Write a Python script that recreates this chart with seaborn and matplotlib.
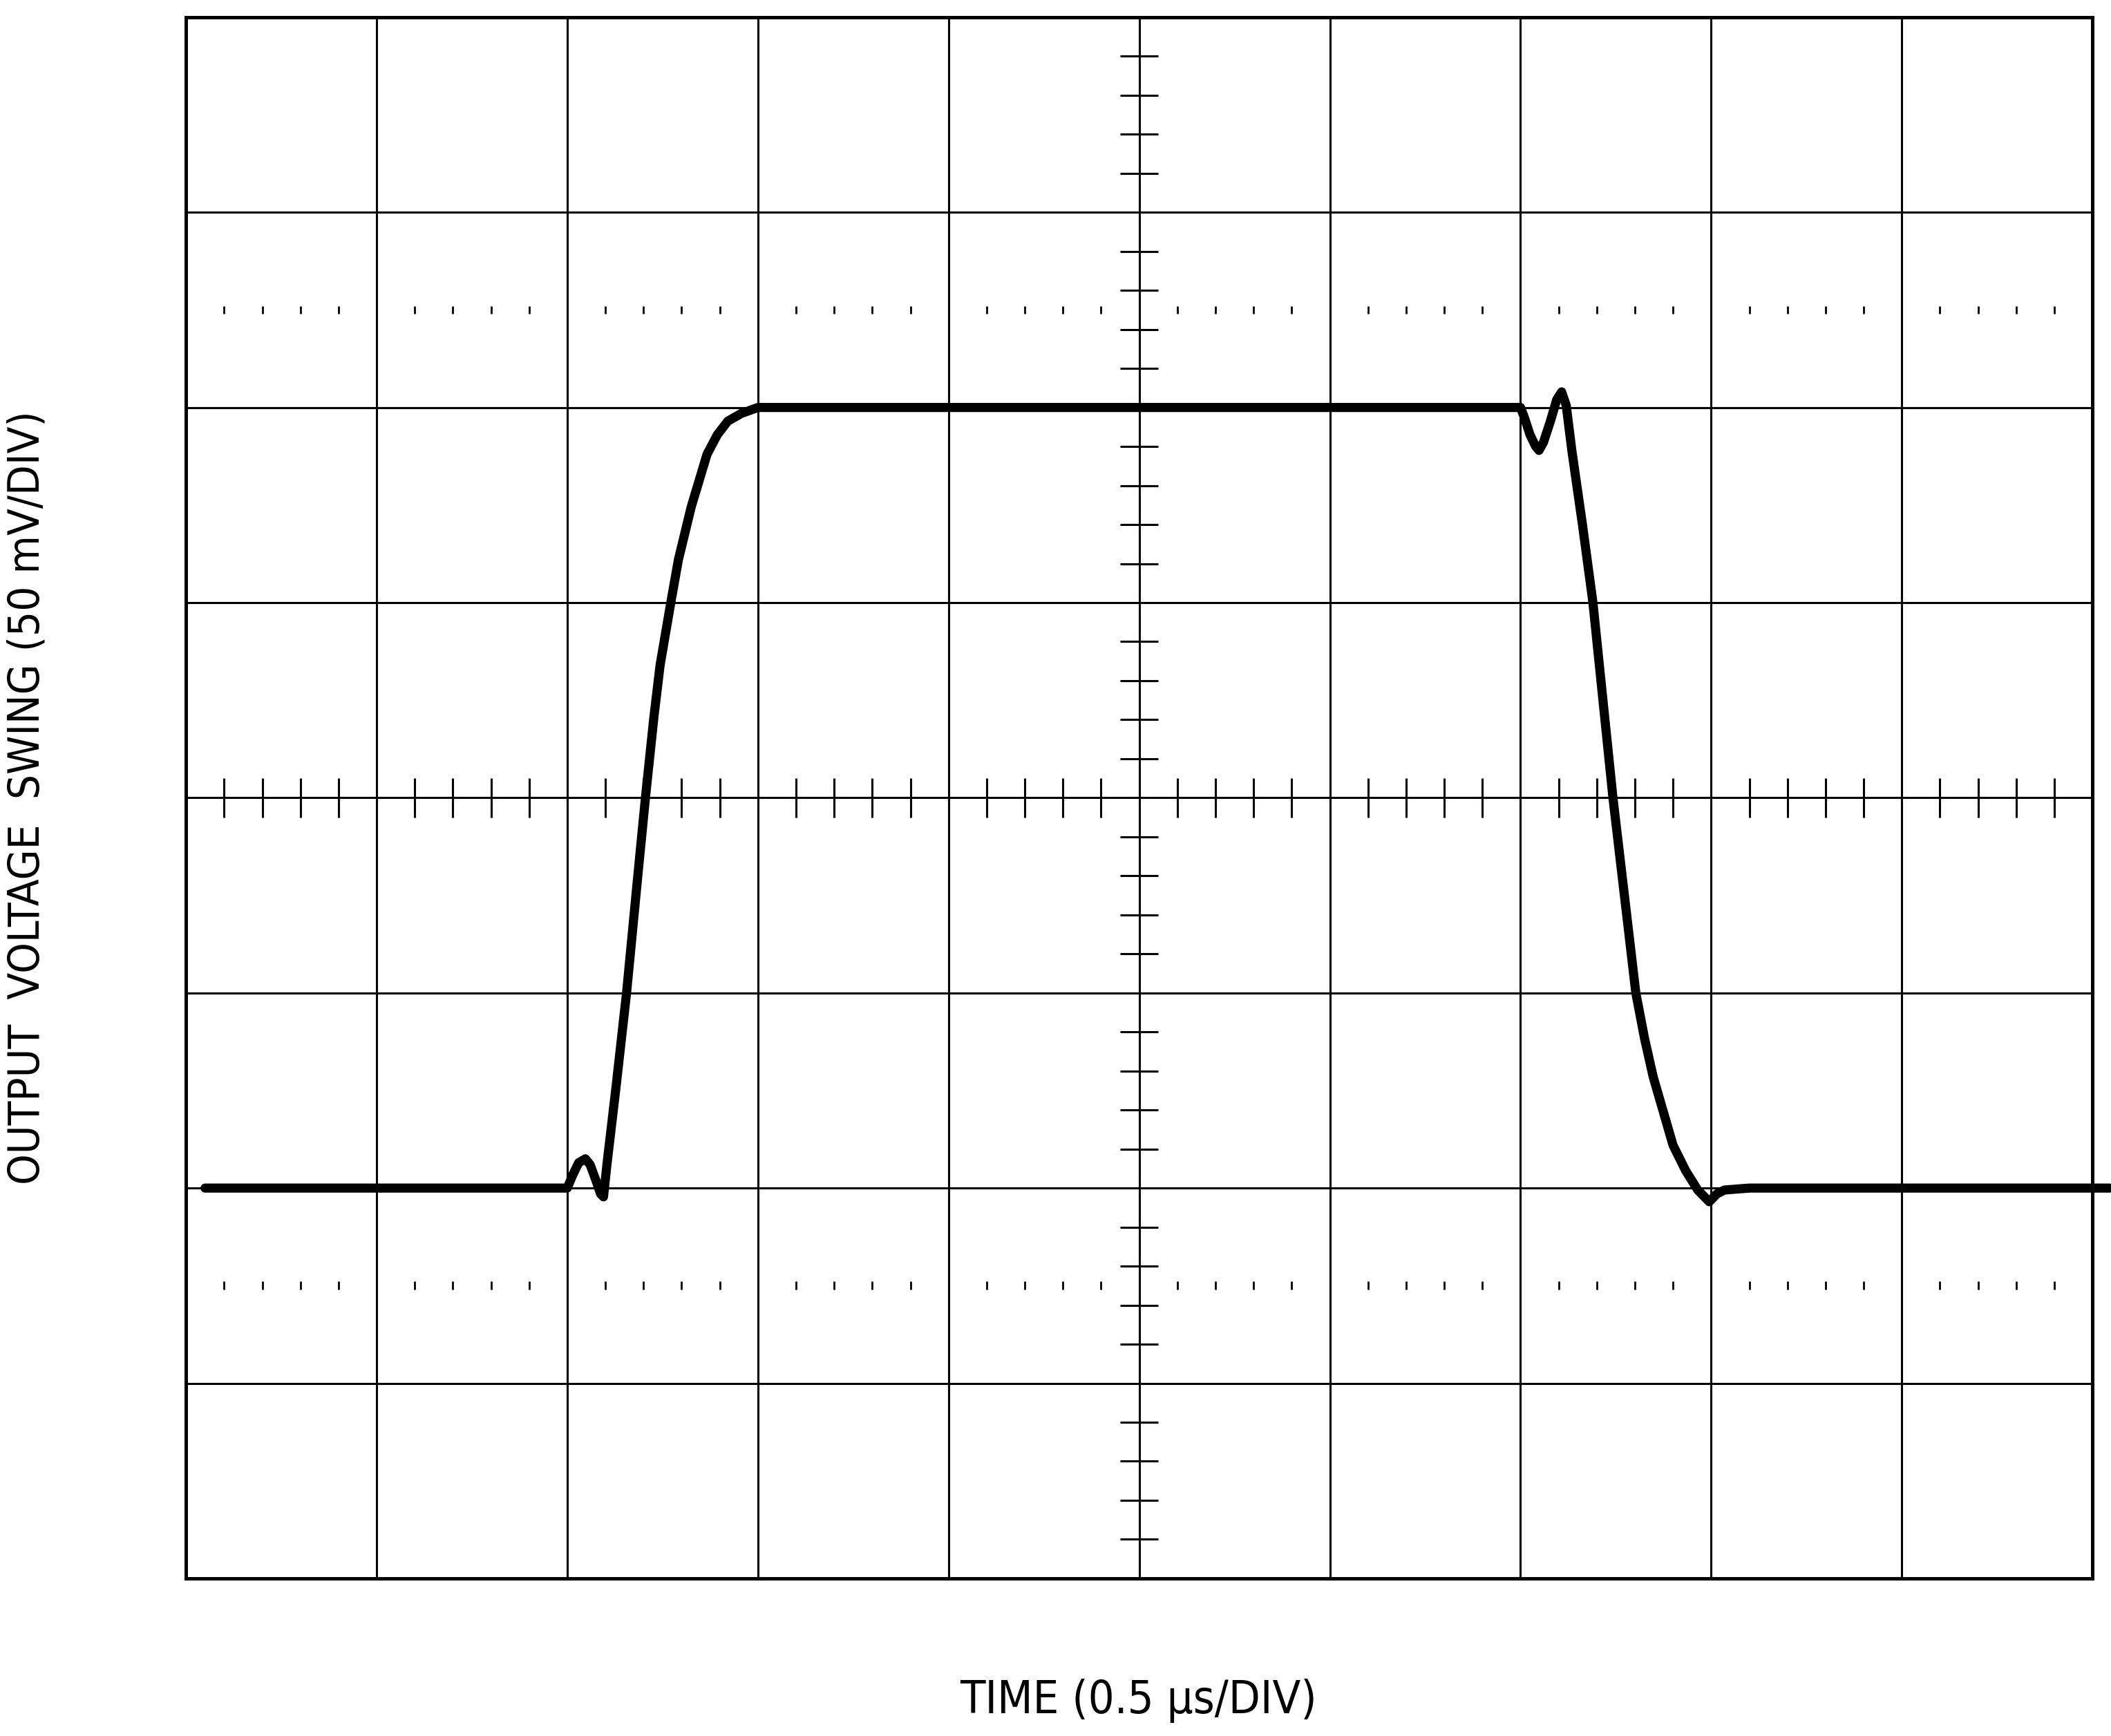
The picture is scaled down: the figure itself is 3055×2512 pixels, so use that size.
import numpy as np
import pandas as pd
import matplotlib
matplotlib.use("Agg")
import matplotlib.pyplot as plt
from matplotlib import font_manager
import seaborn as sns

# scope screen: 10 x 8 divisions, sub ticks every 0.2 div
n_xdiv = 10
n_ydiv = 8
sub_step = 0.2
dotted_rows = [1.5, 6.5]

# trace, both axes in divisions
t_div = [0.10, 2.00, 2.03, 2.06, 2.095, 2.12, 2.15, 2.175, 2.19, 2.208,
         2.256, 2.311, 2.371, 2.41, 2.454, 2.487, 2.543, 2.583, 2.65, 2.733,
         2.787, 2.842, 2.914, 3.00, 7.00, 7.02, 7.05, 7.08, 7.097, 7.12,
         7.157, 7.19, 7.216, 7.24, 7.27, 7.325, 7.38, 7.485, 7.605, 7.65,
         7.696, 7.80, 7.866, 7.93, 7.99, 8.03, 8.07, 8.20, 10.09]
v_div = [2.00, 2.00, 2.07, 2.13, 2.15, 2.12, 2.04, 1.97, 1.955, 2.12,
         2.52, 3.00, 3.61, 4.00, 4.41, 4.68, 5.00, 5.22, 5.49, 5.76,
         5.86, 5.93, 5.97, 6.00, 6.00, 5.95, 5.86, 5.80, 5.78, 5.82,
         5.93, 6.04, 6.08, 6.01, 5.775, 5.40, 5.00, 4.00, 3.00, 2.77,
         2.57, 2.22, 2.09, 1.99, 1.93, 1.97, 1.99, 2.00, 2.00]

x_label = "TIME (0.5 μs/DIV)"
y_label = "OUTPUT  VOLTAGE  SWING (50 mV/DIV)"

sns.set_theme(style="white")
plt.rcParams['font.family'] = ['DejaVu Sans']
plt.rcParams['text.color'] = 'black'

# use the condensed cut if it is there
cond = font_manager.FontProperties(family='DejaVu Sans', stretch='condensed')
has_cond = 'Condensed' in font_manager.findfont(cond, fallback_to_default=True)
stretch = 'condensed' if has_cond else 'normal'

fig = plt.figure(figsize=(30.55, 25.12), dpi=100)
ax = fig.add_axes([0.0881, 0.0908, 0.9031, 0.8993])
ax.set_xlim(0, n_xdiv)
ax.set_ylim(0, n_ydiv)

grid_lw = 2.2
for i in range(1, n_xdiv):
    ax.axvline(i, color='black', lw=grid_lw, zorder=1)
for j in range(1, n_ydiv):
    ax.axhline(j, color='black', lw=grid_lw, zorder=1)

# sub ticks on the centre axes (skip the grid lines)
sub_x = np.arange(0, n_xdiv + 1e-9, sub_step)
sub_x = sub_x[np.abs(sub_x - np.round(sub_x)) > 1e-6]
sub_y = np.arange(0, n_ydiv + 1e-9, sub_step)
sub_y = sub_y[np.abs(sub_y - np.round(sub_y)) > 1e-6]
cx, cy = n_xdiv / 2, n_ydiv / 2
ax.vlines(sub_x, cy - 0.1, cy + 0.1, color='black', lw=grid_lw, zorder=1)
ax.hlines(sub_y, cx - 0.1, cx + 0.1, color='black', lw=grid_lw, zorder=1)

# dotted rows
for r in dotted_rows:
    ax.vlines(sub_x, r - 0.021, r + 0.021, color='black', lw=2.0, zorder=1)

# the trace
df = pd.DataFrame({'t': t_div, 'v': v_div})
sns.lineplot(data=df, x='t', y='v', sort=False, estimator=None,
             color='black', linewidth=9.5, ax=ax, zorder=5)
trace = ax.lines[-1]
trace.set_clip_on(False)
trace.set_solid_capstyle('round')
trace.set_solid_joinstyle('round')

for sp in ax.spines.values():
    sp.set_visible(True)
    sp.set_color('black')
    sp.set_linewidth(3.6)

ax.set_xticks([])
ax.set_yticks([])
ax.set_xlabel('')
ax.set_ylabel('')

xt = fig.text(0.5394, 0.0203, x_label, ha='center', va='center',
              fontsize=54, fontstretch=stretch, color='black')
yt = fig.text(0.0128, 0.5406, y_label, ha='center', va='center',
              fontsize=48, fontstretch=stretch, color='black', rotation=90)

# fit the label lengths to the reference (516 px and 1120 px long)
fig.canvas.draw()
rend = fig.canvas.get_renderer()
w = xt.get_window_extent(rend).width
xt.set_fontsize(54 * 516 / w)
h = yt.get_window_extent(rend).height
yt.set_fontsize(48 * 1120 / h)

fig.savefig('out.png', dpi=100)
